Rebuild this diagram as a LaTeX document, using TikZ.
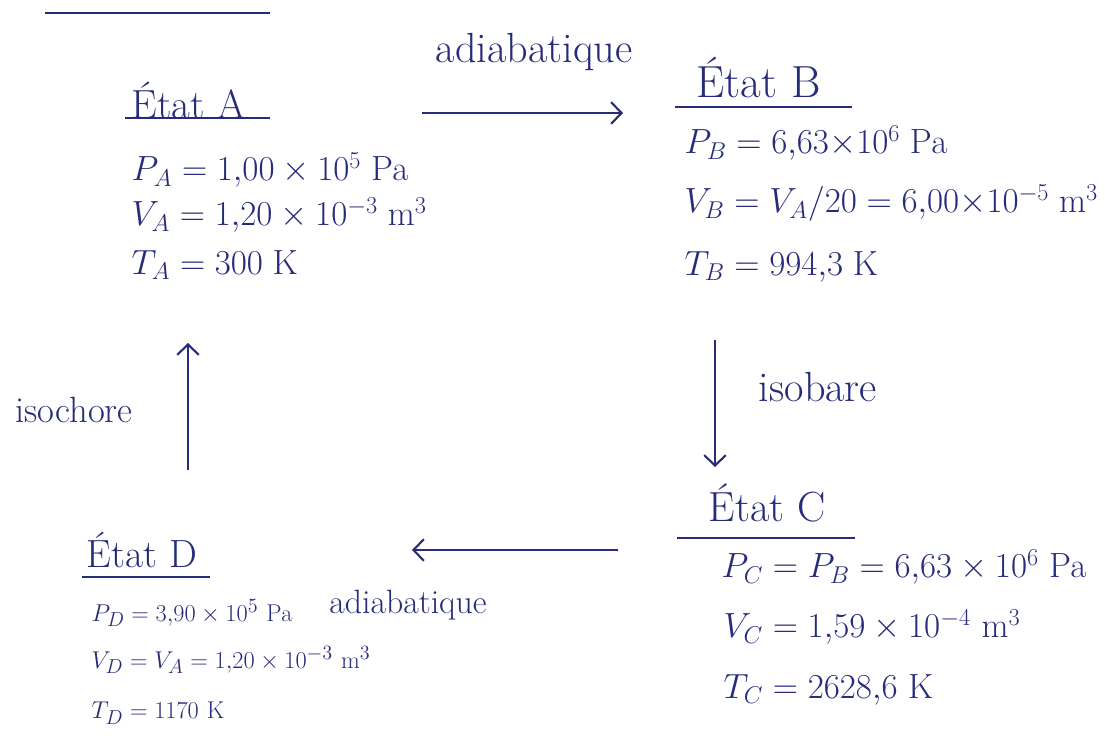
\documentclass[tikz,border=0pt]{standalone}
\usepackage{amsmath}
\usetikzlibrary{arrows.meta}
\definecolor{Ink}{HTML}{262C7A}
\tikzset{
  >={Straight Barb[length=2.6mm,width=5.4mm]},
  ttl/.style={text=Ink,anchor=west,font=\fontsize{#1}{#1}\selectfont,inner sep=1pt},
  ttl/.default=28,
  val/.style={text=Ink,anchor=west,font=\fontsize{#1}{#1}\selectfont,inner sep=1pt},
  val/.default=22,
  lab/.style={text=Ink,font=\fontsize{#1}{#1}\selectfont,inner sep=1pt},
  lab/.default=26,
  trans/.style={->,line width=1.5pt,draw=Ink},
  uline/.style={line width=1.5pt,draw=Ink}
}

\begin{document}
\begin{tikzpicture}[x=0.025cm,y=-0.025cm]
  \useasboundingbox (0,0) rectangle (1105,750);
  % heading, cut at the top
  \draw[uline] (45,13) -- (270,13);

  % state A
  \node[ttl=29] (ttlA) at (130,100) {État A};
  \draw[uline] (125,118) -- (270,118);
  \node[val=23] (pA) at (130,170) {$P_A = 1{,}00\times10^{5}\ \mathrm{Pa}$};
  \node[val=23] (vA) at (130,215) {$V_A = 1{,}20\times10^{-3}\ \mathrm{m}^3$};
  \node[val=23] (tA) at (130,265) {$T_A = 300\ \mathrm{K}$};

  % state B
  \node[ttl=32] (ttlB) at (695,78) {État B};
  \draw[uline] (675,107) -- (852,107);
  \node[val=23] (pB) at (683,143) {$P_B = 6{,}63{\times}10^{6}\ \mathrm{Pa}$};
  \node[val=23] (vB) at (683,203) {$V_B = V_A/20 = 6{,}00{\times}10^{-5}\ \mathrm{m}^3$};
  \node[val=23] (tB) at (683,267) {$T_B = 994{,}3\ \mathrm{K}$};

  % state C
  \node[ttl=30] (ttlC) at (707,503) {État C};
  \draw[uline] (677,538) -- (855,538);
  \node[val=24] (pC) at (720,567) {$P_C = P_B = 6{,}63\times10^{6}\ \mathrm{Pa}$};
  \node[val=25] (vC) at (722,627) {$V_C = 1{,}59\times10^{-4}\ \mathrm{m}^3$};
  \node[val=25] (tC) at (722,690) {$T_C = 2628{,}6\ \mathrm{K}$};

  % state D
  \node[ttl=28] (ttlD) at (85,550) {État D};
  \draw[uline] (82,577) -- (210,577);
  \node[val=19] (pD) at (90,613) {$P_D = 3{,}90\times10^{5}\ \mathrm{Pa}$};
  \node[val=19] (vD) at (90,660) {$V_D = V_A = 1{,}20\times10^{-3}\ \mathrm{m}^3$};
  \node[val=19] (tD) at (90,713) {$T_D = 1170\ \mathrm{K}$};

  % transformations
  \coordinate (ab0) at (422,113);
  \coordinate (ab1) at (623,113);
  \coordinate (bc0) at (715,340);
  \coordinate (bc1) at (715,467);
  \coordinate (cd0) at (618,550);
  \coordinate (cd1) at (412,550);
  \coordinate (da0) at (188,470);
  \coordinate (da1) at (188,343);
  \draw[trans] (ab0) -- (ab1);
  \draw[trans] (bc0) -- (bc1);
  \draw[trans] (cd0) -- (cd1);
  \draw[trans] (da0) -- (da1);
  \node[lab=30] (adAB) at (534,52) {adiabatique};
  \node[lab=30] (isoBC) at (818,387) {isobare};
  \node[lab=24] (adCD) at (408,605) {adiabatique};
  \node[lab=26] (isoDA) at (74,410) {isochore};
\end{tikzpicture}
\end{document}
